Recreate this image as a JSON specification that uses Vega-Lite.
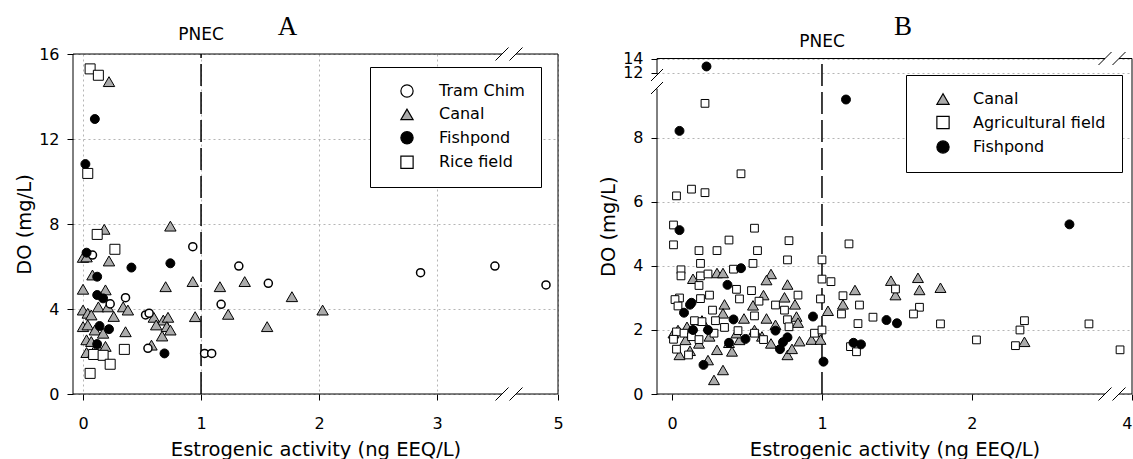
{
  "$schema": "https://vega.github.io/schema/vega-lite/v6.json",
  "autosize": {"type": "pad"},
  "padding": {"left": 14, "top": 13, "right": 0, "bottom": 0},
  "background": "white",
  "bounds": "flush",
  "spacing": 99,
  "config": {
    "view": {"stroke": null},
    "axis": {
      "labelFont": "DejaVu Sans", "labelFontSize": 16, "labelColor": "black",
      "titleFont": "DejaVu Sans", "titleFontSize": 19.5, "titleFontWeight": "normal", "titleColor": "black",
      "tickColor": "black", "tickSize": 6, "tickWidth": 1, "domain": false,
      "gridColor": "#b5b5b5", "gridDash": [2, 3], "gridWidth": 1,
      "labelFlush": false, "labelOverlap": false, "labelPadding": 8, "format": "d"
    },
    "legend": {"labelFont": "DejaVu Sans", "labelFontSize": 16, "labelColor": "black"}
  },
  "datasets": {
    "a": [
      {"x": 0.08, "y": 6.54, "site": "Tram Chim"},
      {"x": 0.93, "y": 6.93, "site": "Tram Chim"},
      {"x": 1.32, "y": 6.02, "site": "Tram Chim"},
      {"x": 1.57, "y": 5.21, "site": "Tram Chim"},
      {"x": 0.36, "y": 4.53, "site": "Tram Chim"},
      {"x": 0.23, "y": 4.24, "site": "Tram Chim"},
      {"x": 1.17, "y": 4.22, "site": "Tram Chim"},
      {"x": 0.53, "y": 3.72, "site": "Tram Chim"},
      {"x": 0.56, "y": 3.8, "site": "Tram Chim"},
      {"x": 0.55, "y": 2.15, "site": "Tram Chim"},
      {"x": 1.03, "y": 1.91, "site": "Tram Chim"},
      {"x": 1.09, "y": 1.91, "site": "Tram Chim"},
      {"x": 2.86, "y": 5.71, "site": "Tram Chim"},
      {"x": 3.49, "y": 6.02, "site": "Tram Chim"},
      {"x": 4.9, "y": 5.13, "site": "Tram Chim"},
      {"x": 0.22, "y": 14.7, "site": "Canal"},
      {"x": 0.18, "y": 7.75, "site": "Canal"},
      {"x": 0.74, "y": 7.9, "site": "Canal"},
      {"x": 0.0, "y": 6.43, "site": "Canal"},
      {"x": 0.03, "y": 6.45, "site": "Canal"},
      {"x": 0.22, "y": 6.26, "site": "Canal"},
      {"x": 0.08, "y": 5.6, "site": "Canal"},
      {"x": 0.7, "y": 5.05, "site": "Canal"},
      {"x": 0.93, "y": 5.29, "site": "Canal"},
      {"x": 1.16, "y": 5.05, "site": "Canal"},
      {"x": 1.37, "y": 5.29, "site": "Canal"},
      {"x": 1.77, "y": 4.58, "site": "Canal"},
      {"x": 0.0, "y": 4.93, "site": "Canal"},
      {"x": 0.19, "y": 4.9, "site": "Canal"},
      {"x": 1.23, "y": 3.75, "site": "Canal"},
      {"x": 2.03, "y": 3.95, "site": "Canal"},
      {"x": 1.56, "y": 3.17, "site": "Canal"},
      {"x": 0.95, "y": 3.64, "site": "Canal"},
      {"x": 0.0, "y": 3.95, "site": "Canal"},
      {"x": 0.04, "y": 3.8, "site": "Canal"},
      {"x": 0.07, "y": 3.72, "site": "Canal"},
      {"x": 0.13, "y": 4.1, "site": "Canal"},
      {"x": 0.21, "y": 4.1, "site": "Canal"},
      {"x": 0.26, "y": 3.65, "site": "Canal"},
      {"x": 0.34, "y": 4.1, "site": "Canal"},
      {"x": 0.38, "y": 3.95, "site": "Canal"},
      {"x": 0.0, "y": 3.17, "site": "Canal"},
      {"x": 0.04, "y": 3.25, "site": "Canal"},
      {"x": 0.1, "y": 3.01, "site": "Canal"},
      {"x": 0.17, "y": 2.86, "site": "Canal"},
      {"x": 0.03, "y": 2.55, "site": "Canal"},
      {"x": 0.07, "y": 2.47, "site": "Canal"},
      {"x": 0.12, "y": 2.24, "site": "Canal"},
      {"x": 0.19, "y": 2.24, "site": "Canal"},
      {"x": 0.03, "y": 1.95, "site": "Canal"},
      {"x": 0.09, "y": 2.0, "site": "Canal"},
      {"x": 0.36, "y": 2.93, "site": "Canal"},
      {"x": 0.6, "y": 3.61, "site": "Canal"},
      {"x": 0.68, "y": 3.48, "site": "Canal"},
      {"x": 0.72, "y": 3.61, "site": "Canal"},
      {"x": 0.62, "y": 3.25, "site": "Canal"},
      {"x": 0.71, "y": 3.17, "site": "Canal"},
      {"x": 0.74, "y": 3.01, "site": "Canal"},
      {"x": 0.67, "y": 2.73, "site": "Canal"},
      {"x": 0.58, "y": 2.3, "site": "Canal"},
      {"x": 0.1, "y": 12.94, "site": "Fishpond"},
      {"x": 0.02, "y": 10.82, "site": "Fishpond"},
      {"x": 0.03, "y": 6.65, "site": "Fishpond"},
      {"x": 0.41, "y": 5.95, "site": "Fishpond"},
      {"x": 0.74, "y": 6.15, "site": "Fishpond"},
      {"x": 0.12, "y": 5.52, "site": "Fishpond"},
      {"x": 0.12, "y": 4.66, "site": "Fishpond"},
      {"x": 0.17, "y": 4.5, "site": "Fishpond"},
      {"x": 0.69, "y": 1.91, "site": "Fishpond"},
      {"x": 0.14, "y": 3.2, "site": "Fishpond"},
      {"x": 0.22, "y": 3.05, "site": "Fishpond"},
      {"x": 0.12, "y": 2.35, "site": "Fishpond"},
      {"x": 0.06, "y": 15.3, "site": "Rice field"},
      {"x": 0.13, "y": 15.0, "site": "Rice field"},
      {"x": 0.04, "y": 10.38, "site": "Rice field"},
      {"x": 0.12, "y": 7.51, "site": "Rice field"},
      {"x": 0.27, "y": 6.81, "site": "Rice field"},
      {"x": 0.35, "y": 2.1, "site": "Rice field"},
      {"x": 0.09, "y": 1.86, "site": "Rice field"},
      {"x": 0.17, "y": 1.82, "site": "Rice field"},
      {"x": 0.23, "y": 1.4, "site": "Rice field"},
      {"x": 0.06, "y": 0.97, "site": "Rice field"}
    ],
    "b": [
      {"x": 0.23, "y": 12.9, "site": "Fishpond"},
      {"x": 1.16, "y": 9.2, "site": "Fishpond"},
      {"x": 0.05, "y": 8.22, "site": "Fishpond"},
      {"x": 0.05, "y": 5.12, "site": "Fishpond"},
      {"x": 0.46, "y": 3.93, "site": "Fishpond"},
      {"x": 0.37, "y": 3.41, "site": "Fishpond"},
      {"x": 0.12, "y": 2.79, "site": "Fishpond"},
      {"x": 0.08, "y": 2.54, "site": "Fishpond"},
      {"x": 0.14, "y": 2.0, "site": "Fishpond"},
      {"x": 0.24, "y": 2.0, "site": "Fishpond"},
      {"x": 0.41, "y": 2.33, "site": "Fishpond"},
      {"x": 0.38, "y": 1.6, "site": "Fishpond"},
      {"x": 0.49, "y": 1.72, "site": "Fishpond"},
      {"x": 0.69, "y": 1.98, "site": "Fishpond"},
      {"x": 0.77, "y": 1.77, "site": "Fishpond"},
      {"x": 0.74, "y": 1.62, "site": "Fishpond"},
      {"x": 0.72, "y": 1.4, "site": "Fishpond"},
      {"x": 0.21, "y": 0.91, "site": "Fishpond"},
      {"x": 0.94, "y": 2.42, "site": "Fishpond"},
      {"x": 1.01, "y": 1.01, "site": "Fishpond"},
      {"x": 1.21, "y": 1.6, "site": "Fishpond"},
      {"x": 1.26, "y": 1.55, "site": "Fishpond"},
      {"x": 1.43, "y": 2.31, "site": "Fishpond"},
      {"x": 1.5, "y": 2.21, "site": "Fishpond"},
      {"x": 2.65, "y": 5.3, "site": "Fishpond"},
      {"x": 0.13, "y": 2.85, "site": "Fishpond"},
      {"x": 0.22, "y": 9.08, "site": "Agricultural field"},
      {"x": 0.46, "y": 6.88, "site": "Agricultural field"},
      {"x": 0.13, "y": 6.4, "site": "Agricultural field"},
      {"x": 0.22, "y": 6.29, "site": "Agricultural field"},
      {"x": 0.03, "y": 6.19, "site": "Agricultural field"},
      {"x": 0.01, "y": 5.28, "site": "Agricultural field"},
      {"x": 0.55, "y": 5.18, "site": "Agricultural field"},
      {"x": 0.01, "y": 4.66, "site": "Agricultural field"},
      {"x": 0.38, "y": 4.81, "site": "Agricultural field"},
      {"x": 0.78, "y": 4.79, "site": "Agricultural field"},
      {"x": 1.18, "y": 4.69, "site": "Agricultural field"},
      {"x": 0.18, "y": 4.48, "site": "Agricultural field"},
      {"x": 0.3, "y": 4.48, "site": "Agricultural field"},
      {"x": 0.57, "y": 4.48, "site": "Agricultural field"},
      {"x": 0.19, "y": 4.08, "site": "Agricultural field"},
      {"x": 0.54, "y": 4.08, "site": "Agricultural field"},
      {"x": 0.77, "y": 4.19, "site": "Agricultural field"},
      {"x": 1.0, "y": 4.19, "site": "Agricultural field"},
      {"x": 0.06, "y": 3.88, "site": "Agricultural field"},
      {"x": 0.06, "y": 3.69, "site": "Agricultural field"},
      {"x": 0.19, "y": 3.69, "site": "Agricultural field"},
      {"x": 0.24, "y": 3.75, "site": "Agricultural field"},
      {"x": 0.41, "y": 3.9, "site": "Agricultural field"},
      {"x": 1.0, "y": 3.59, "site": "Agricultural field"},
      {"x": 1.06, "y": 3.51, "site": "Agricultural field"},
      {"x": 0.18, "y": 3.39, "site": "Agricultural field"},
      {"x": 0.43, "y": 3.27, "site": "Agricultural field"},
      {"x": 0.53, "y": 3.23, "site": "Agricultural field"},
      {"x": 0.05, "y": 3.0, "site": "Agricultural field"},
      {"x": 0.02, "y": 2.95, "site": "Agricultural field"},
      {"x": 0.19, "y": 2.98, "site": "Agricultural field"},
      {"x": 0.25, "y": 3.09, "site": "Agricultural field"},
      {"x": 0.45, "y": 2.97, "site": "Agricultural field"},
      {"x": 0.58, "y": 2.9, "site": "Agricultural field"},
      {"x": 0.84, "y": 3.09, "site": "Agricultural field"},
      {"x": 0.99, "y": 2.97, "site": "Agricultural field"},
      {"x": 1.14, "y": 3.07, "site": "Agricultural field"},
      {"x": 1.25, "y": 2.78, "site": "Agricultural field"},
      {"x": 1.13, "y": 2.5, "site": "Agricultural field"},
      {"x": 1.34, "y": 2.4, "site": "Agricultural field"},
      {"x": 1.24, "y": 2.2, "site": "Agricultural field"},
      {"x": 0.69, "y": 2.78, "site": "Agricultural field"},
      {"x": 0.75, "y": 2.62, "site": "Agricultural field"},
      {"x": 0.27, "y": 2.62, "site": "Agricultural field"},
      {"x": 0.04, "y": 2.75, "site": "Agricultural field"},
      {"x": 0.15, "y": 2.29, "site": "Agricultural field"},
      {"x": 0.2, "y": 2.26, "site": "Agricultural field"},
      {"x": 0.29, "y": 2.29, "site": "Agricultural field"},
      {"x": 0.44, "y": 1.98, "site": "Agricultural field"},
      {"x": 0.55, "y": 2.44, "site": "Agricultural field"},
      {"x": 0.77, "y": 2.32, "site": "Agricultural field"},
      {"x": 0.78, "y": 2.1, "site": "Agricultural field"},
      {"x": 0.95, "y": 1.9, "site": "Agricultural field"},
      {"x": 1.0, "y": 2.0, "site": "Agricultural field"},
      {"x": 0.03, "y": 1.94, "site": "Agricultural field"},
      {"x": 0.08, "y": 1.9, "site": "Agricultural field"},
      {"x": 0.13, "y": 1.79, "site": "Agricultural field"},
      {"x": 0.01, "y": 1.71, "site": "Agricultural field"},
      {"x": 0.03, "y": 1.4, "site": "Agricultural field"},
      {"x": 0.11, "y": 1.22, "site": "Agricultural field"},
      {"x": 0.18, "y": 1.7, "site": "Agricultural field"},
      {"x": 0.28, "y": 1.9, "site": "Agricultural field"},
      {"x": 0.35, "y": 2.08, "site": "Agricultural field"},
      {"x": 0.55, "y": 1.9, "site": "Agricultural field"},
      {"x": 0.61, "y": 1.7, "site": "Agricultural field"},
      {"x": 1.19, "y": 1.48, "site": "Agricultural field"},
      {"x": 1.23, "y": 1.32, "site": "Agricultural field"},
      {"x": 1.49, "y": 3.28, "site": "Agricultural field"},
      {"x": 1.65, "y": 2.71, "site": "Agricultural field"},
      {"x": 1.61, "y": 2.5, "site": "Agricultural field"},
      {"x": 1.79, "y": 2.19, "site": "Agricultural field"},
      {"x": 2.03, "y": 1.69, "site": "Agricultural field"},
      {"x": 2.35, "y": 2.29, "site": "Agricultural field"},
      {"x": 2.32, "y": 2.0, "site": "Agricultural field"},
      {"x": 2.29, "y": 1.51, "site": "Agricultural field"},
      {"x": 2.78, "y": 2.19, "site": "Agricultural field"},
      {"x": 3.92, "y": 1.38, "site": "Agricultural field"},
      {"x": 0.14, "y": 3.6, "site": "Canal"},
      {"x": 0.3, "y": 3.78, "site": "Canal"},
      {"x": 0.34, "y": 3.78, "site": "Canal"},
      {"x": 0.66, "y": 3.75, "site": "Canal"},
      {"x": 0.63, "y": 3.56, "site": "Canal"},
      {"x": 0.77, "y": 3.42, "site": "Canal"},
      {"x": 0.61, "y": 3.09, "site": "Canal"},
      {"x": 0.54, "y": 2.77, "site": "Canal"},
      {"x": 0.75, "y": 3.02, "site": "Canal"},
      {"x": 0.82, "y": 2.8, "site": "Canal"},
      {"x": 1.22, "y": 3.25, "site": "Canal"},
      {"x": 1.14, "y": 2.8, "site": "Canal"},
      {"x": 1.04, "y": 2.6, "site": "Canal"},
      {"x": 0.35, "y": 2.8, "site": "Canal"},
      {"x": 0.34, "y": 2.52, "site": "Canal"},
      {"x": 0.48, "y": 2.36, "site": "Canal"},
      {"x": 0.63, "y": 2.36, "site": "Canal"},
      {"x": 0.83, "y": 2.42, "site": "Canal"},
      {"x": 0.84, "y": 2.23, "site": "Canal"},
      {"x": 0.69, "y": 2.16, "site": "Canal"},
      {"x": 0.01, "y": 1.9, "site": "Canal"},
      {"x": 0.09, "y": 1.69, "site": "Canal"},
      {"x": 0.18, "y": 1.58, "site": "Canal"},
      {"x": 0.3, "y": 1.38, "site": "Canal"},
      {"x": 0.4, "y": 1.33, "site": "Canal"},
      {"x": 0.45, "y": 1.69, "site": "Canal"},
      {"x": 0.66, "y": 1.58, "site": "Canal"},
      {"x": 0.77, "y": 1.22, "site": "Canal"},
      {"x": 0.8, "y": 1.41, "site": "Canal"},
      {"x": 0.85, "y": 1.65, "site": "Canal"},
      {"x": 0.93, "y": 1.7, "site": "Canal"},
      {"x": 0.99, "y": 1.7, "site": "Canal"},
      {"x": 0.05, "y": 1.22, "site": "Canal"},
      {"x": 0.34, "y": 0.75, "site": "Canal"},
      {"x": 0.28, "y": 0.44, "site": "Canal"},
      {"x": 0.24, "y": 1.06, "site": "Canal"},
      {"x": 0.38, "y": 1.6, "site": "Canal"},
      {"x": 0.43, "y": 1.9, "site": "Canal"},
      {"x": 0.04, "y": 2.0, "site": "Canal"},
      {"x": 0.1, "y": 2.1, "site": "Canal"},
      {"x": 0.2, "y": 2.3, "site": "Canal"},
      {"x": 0.25, "y": 1.8, "site": "Canal"},
      {"x": 0.55, "y": 2.0, "site": "Canal"},
      {"x": 0.6, "y": 1.8, "site": "Canal"},
      {"x": 0.12, "y": 1.35, "site": "Canal"},
      {"x": 1.46, "y": 3.54, "site": "Canal"},
      {"x": 1.64, "y": 3.63, "site": "Canal"},
      {"x": 1.65, "y": 3.25, "site": "Canal"},
      {"x": 1.79, "y": 3.32, "site": "Canal"},
      {"x": 1.49, "y": 3.09, "site": "Canal"},
      {"x": 2.35, "y": 1.63, "site": "Canal"}
    ],
    "frameA": [{"x": 1.001, "y": 16.001}],
    "ruleA": [{"x": 1, "y": 16}],
    "pnecTextA": [{"x": 1, "y": 16, "t": "PNEC"}],
    "letterA": [{"x": 1, "y": 16, "t": "A"}],
    "frameB": [{"x": 1.001, "y": 14.001}],
    "ruleB": [{"x": 1, "y": 14}],
    "pnecTextB": [{"x": 1, "y": 14, "t": "PNEC"}],
    "letterB": [{"x": 1, "y": 14, "t": "B"}],
    "aSlash": [{"x": 3.55, "y": 0}, {"x": 4.65, "y": 0}, {"x": 3.55, "y": 16}, {"x": 4.65, "y": 16}],
    "aGap": [{"x": 4.1, "y": 0}, {"x": 4.1, "y": 16}],
    "bGrid": [{"x": 0}, {"x": 1}, {"x": 2}],
    "bSlashX": [{"x": 2.887, "y": 0}, {"x": 3.913, "y": 0}, {"x": 2.887, "y": 14}, {"x": 3.913, "y": 14}],
    "bGapX": [{"x": 3.4, "y": 0}, {"x": 3.4, "y": 14}],
    "bSlashY": [{"x": -0.1, "y": 9.56}, {"x": -0.1, "y": 11.72}],
    "bGapY": [{"x": -0.1, "y": 10.64}, {"x": -0.1, "y": 10.641}]
  },
  "hconcat": [
    {
      "width": 485,
      "height": 340,
      "data": {"name": "a"},
      "encoding": {
        "x": {"field": "x", "type": "quantitative",
          "scale": {"domain": [-0.085, 3.55, 4.65, 5], "range": [0, 429, 443, 485], "nice": false, "zero": false},
          "axis": {"values": [0, 1, 2, 3, 5], "title": "Estrogenic activity (ng EEQ/L)", "grid": true, "labelPadding": 15, "titlePadding": 9}},
        "y": {"field": "y", "type": "quantitative",
          "scale": {"domain": [0, 16], "nice": false, "zero": false},
          "axis": {"values": [0, 4, 8, 12, 16], "title": "DO (mg/L)", "grid": true, "titlePadding": 4}}
      },
      "layer": [
        {
          "data": {"name": "frameA"},
          "mark": {"type": "rect", "fill": "transparent", "stroke": "black", "strokeWidth": 1},
          "encoding": {"x": {"datum": -0.085}, "x2": {"datum": 5}, "y": {"datum": 0}, "y2": {"datum": 16}}
        },
        {
          "data": {"name": "ruleA"},
          "mark": {"type": "rule", "stroke": "black", "strokeWidth": 1.5, "strokeDash": [22, 6]},
          "encoding": {"y": {"datum": 0}, "y2": {"field": "y"}}
        },
        {
          "data": {"name": "pnecTextA"},
          "mark": {"type": "text", "font": "DejaVu Sans", "fontSize": 17, "dy": -19, "baseline": "middle", "fill": "black"},
          "encoding": {"text": {"field": "t"}}
        },
        {
          "data": {"name": "letterA"},
          "mark": {"type": "text", "font": "Liberation Serif", "fontSize": 27, "dx": 86.5, "dy": -19, "baseline": "alphabetic", "fill": "black"},
          "encoding": {"text": {"field": "t"}}
        },
        {
          "transform": [{"filter": "datum.site === 'Canal'"}],
          "mark": {"type": "point", "filled": true, "stroke": "black", "strokeWidth": 1, "opacity": 1, "size": 130},
          "encoding": {
            "fill": {"field": "site", "type": "nominal",
              "scale": {"domain": ["Tram Chim", "Canal", "Fishpond", "Rice field"], "range": ["white", "#ababab", "black", "white"]},
              "legend": {"title": null, "orient": "none", "legendX": 297, "legendY": 13, "strokeColor": "black", "fillColor": "white", "padding": 16, "rowPadding": 6.4, "symbolSize": 150, "symbolOffset": 13, "labelOffset": 24, "symbolStrokeColor": "black", "symbolStrokeWidth": 1.2}},
            "shape": {"field": "site", "type": "nominal",
              "scale": {"domain": ["Tram Chim", "Canal", "Fishpond", "Rice field"], "range": ["circle", "triangle-up", "circle", "square"]}}
          }
        },
        {
          "transform": [{"filter": "datum.site === 'Tram Chim'"}],
          "mark": {"type": "point", "filled": true, "stroke": "black", "strokeWidth": 1.5, "opacity": 1, "size": 65},
          "encoding": {"fill": {"field": "site", "type": "nominal"}, "shape": {"field": "site", "type": "nominal"}}
        },
        {
          "transform": [{"filter": "datum.site === 'Fishpond'"}],
          "mark": {"type": "point", "filled": true, "stroke": "black", "strokeWidth": 1, "opacity": 1, "size": 80},
          "encoding": {"fill": {"field": "site", "type": "nominal"}, "shape": {"field": "site", "type": "nominal"}}
        },
        {
          "transform": [{"filter": "datum.site === 'Rice field'"}],
          "mark": {"type": "point", "filled": true, "stroke": "black", "strokeWidth": 1, "opacity": 1, "size": 100},
          "encoding": {"fill": {"field": "site", "type": "nominal"}, "shape": {"field": "site", "type": "nominal"}}
        },
        {
          "data": {"name": "aGap"},
          "mark": {"type": "point", "shape": "M-1,0L1,0", "size": 196, "stroke": "white", "strokeWidth": 3, "filled": false, "opacity": 1}
        },
        {
          "data": {"name": "aSlash"},
          "mark": {"type": "point", "shape": "M-1,1L1,-1", "size": 169, "stroke": "black", "strokeWidth": 1, "filled": false, "opacity": 1}
        }
      ]
    },
    {
      "width": 475,
      "height": 340,
      "data": {"name": "b"},
      "encoding": {
        "x": {"field": "x", "type": "quantitative",
          "scale": {"domain": [-0.1, 2.887, 3.913, 4.0], "range": [0, 448, 462, 475], "nice": false, "zero": false},
          "axis": {"values": [0, 1, 2, 4], "title": "Estrogenic activity (ng EEQ/L)", "grid": false, "labelPadding": 15, "titlePadding": 9, "labelFlush": true}},
        "y": {"field": "y", "type": "quantitative",
          "scale": {"domain": [0, 9.56, 11.72, 14], "range": [340, 34, 21, 4.5], "nice": false, "zero": false},
          "axis": {"values": [0, 2, 4, 6, 8, 12, 14], "title": "DO (mg/L)", "grid": true, "titlePadding": 4}}
      },
      "layer": [
        {
          "data": {"name": "bGrid"},
          "mark": {"type": "rule", "stroke": "#b5b5b5", "strokeDash": [2, 3], "strokeWidth": 1},
          "encoding": {"y": {"datum": 0}, "y2": {"datum": 14}}
        },
        {
          "data": {"name": "frameB"},
          "mark": {"type": "rect", "fill": "transparent", "stroke": "black", "strokeWidth": 1},
          "encoding": {"x": {"datum": -0.1}, "x2": {"datum": 4.0}, "y": {"datum": 0}, "y2": {"datum": 14}}
        },
        {
          "data": {"name": "ruleB"},
          "mark": {"type": "rule", "stroke": "black", "strokeWidth": 1.5, "strokeDash": [22, 6]},
          "encoding": {"y": {"datum": 0}, "y2": {"field": "y"}}
        },
        {
          "data": {"name": "pnecTextB"},
          "mark": {"type": "text", "font": "DejaVu Sans", "fontSize": 17, "dy": -16.5, "baseline": "middle", "fill": "black"},
          "encoding": {"text": {"field": "t"}}
        },
        {
          "data": {"name": "letterB"},
          "mark": {"type": "text", "font": "Liberation Serif", "fontSize": 27, "dx": 81, "dy": -23.5, "baseline": "alphabetic", "fill": "black"},
          "encoding": {"text": {"field": "t"}}
        },
        {
          "transform": [{"filter": "datum.site === 'Canal'"}],
          "mark": {"type": "point", "filled": true, "stroke": "black", "strokeWidth": 1, "opacity": 1, "size": 120},
          "encoding": {
            "fill": {"field": "site", "type": "nominal",
              "scale": {"domain": ["Canal", "Agricultural field", "Fishpond"], "range": ["#ababab", "white", "black"]},
              "legend": {"title": null, "orient": "none", "legendX": 249, "legendY": 21, "strokeColor": "black", "fillColor": "white", "padding": 16, "rowPadding": 6.5, "symbolSize": 150, "symbolOffset": 13, "labelOffset": 22, "symbolStrokeColor": "black", "symbolStrokeWidth": 1.2}},
            "shape": {"field": "site", "type": "nominal",
              "scale": {"domain": ["Canal", "Agricultural field", "Fishpond"], "range": ["triangle-up", "square", "circle"]}}
          }
        },
        {
          "transform": [{"filter": "datum.site === 'Agricultural field'"}],
          "mark": {"type": "point", "filled": true, "stroke": "black", "strokeWidth": 1, "opacity": 1, "size": 60},
          "encoding": {"fill": {"field": "site", "type": "nominal"}, "shape": {"field": "site", "type": "nominal"}}
        },
        {
          "transform": [{"filter": "datum.site === 'Fishpond'"}],
          "mark": {"type": "point", "filled": true, "stroke": "black", "strokeWidth": 1, "opacity": 1, "size": 80},
          "encoding": {"fill": {"field": "site", "type": "nominal"}, "shape": {"field": "site", "type": "nominal"}}
        },
        {
          "data": {"name": "bGapX"},
          "mark": {"type": "point", "shape": "M-1,0L1,0", "size": 196, "stroke": "white", "strokeWidth": 3, "filled": false, "opacity": 1}
        },
        {
          "data": {"name": "bGapY"},
          "mark": {"type": "point", "shape": "M0,-1L0,1", "size": 196, "stroke": "white", "strokeWidth": 3, "filled": false, "opacity": 1}
        },
        {
          "data": {"name": "bSlashX"},
          "mark": {"type": "point", "shape": "M-1,1L1,-1", "size": 169, "stroke": "black", "strokeWidth": 1, "filled": false, "opacity": 1}
        },
        {
          "data": {"name": "bSlashY"},
          "mark": {"type": "point", "shape": "M-1,1L1,-1", "size": 144, "stroke": "black", "strokeWidth": 1, "filled": false, "opacity": 1}
        }
      ]
    }
  ],
  "resolve": {
    "scale": {"x": "independent", "y": "independent", "fill": "independent", "shape": "independent"},
    "legend": {"fill": "independent", "shape": "independent"}
  }
}
